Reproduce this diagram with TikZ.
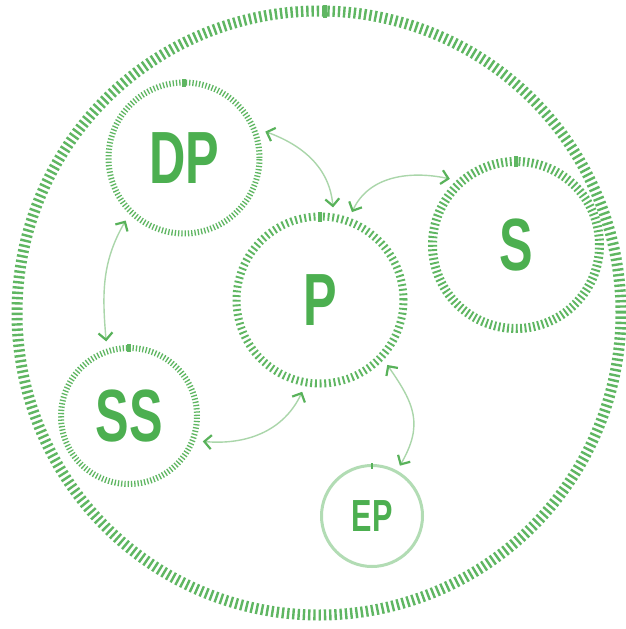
\documentclass[tikz,border=0pt]{standalone}
\usepackage{fontspec}
\newfontfamily\tagfont[FakeStretch=0.68]{Liberation Sans}
\usetikzlibrary{arrows.meta}
\definecolor{textgreen}{RGB}{76,175,80}
\definecolor{tickgreen}{RGB}{95,182,98}
\definecolor{linegreen}{RGB}{170,214,170}
\definecolor{tipgreen}{RGB}{88,178,90}
\definecolor{epgreen}{RGB}{178,220,180}

\begin{document}
\begin{tikzpicture}[x=1pt, y=1pt,
  ring/.style={circle, draw=tickgreen, inner sep=0pt, outer sep=10pt, text=textgreen,
    font=\tagfont\bfseries\fontsize{74}{74}\selectfont},
  link/.style={draw=linegreen, line width=1.4pt,
    >={Straight Barb[color=tipgreen, length=7pt, width=14pt, line width=2.2pt]}, <->}]
\fill[white] (0,0) rectangle (625,-629);
\useasboundingbox (0,0) rectangle (625,-629);
\draw[tickgreen, line width=11pt, dash pattern=on 2.4pt off 2.87pt] (319,-313) circle[radius=302];
\fill[tickgreen] (323,-17.5) rectangle ++(4,13);

\node (DP) [ring, minimum size=151pt, line width=6pt, dash pattern=on 1.3pt off 2pt] at (184,-158) {DP};
\node (P) [ring, minimum size=167pt, line width=8pt, dash pattern=on 1.9pt off 2.78pt] at (320,-300) {P};
\node (S) [ring, minimum size=167pt, line width=9pt, dash pattern=on 1.9pt off 2.47pt] at (516,-245) {S};
\node (SS) [ring, minimum size=136pt, line width=6pt, dash pattern=on 1.3pt off 1.99pt] at (129,-416) {SS};
\node (EP) [circle, draw=epgreen, line width=3pt, minimum size=101pt, inner sep=0pt, outer sep=7pt,
  text=textgreen, font=\tagfont\bfseries\fontsize{45}{45}\selectfont] at (372,-516) {EP};

\foreach \n/\r/\l in {DP/75.5/6, P/83.5/8, S/83.5/9, SS/68/6}
  \fill[tickgreen] ([shift={(-2,\r-\l/2-1)}]\n.center) rectangle ++(4,\l+2);
\fill[tipgreen] ([shift={(-0.6,47)}]EP.center) rectangle ++(1.2,6);

\draw[link] (DP.18) to[out=-20, in=95] (P.82);
\draw[link] (P.70) to[out=65, in=168] (S.135);
\draw[link] (DP.227) to[out=240, in=95] (SS.107);
\draw[link] (SS.-19) to[out=-5, in=-115] (P.259);
\draw[link] (P.-44) to[out=-55, in=60, looseness=1.2] (EP.61);
\end{tikzpicture}
\end{document}
